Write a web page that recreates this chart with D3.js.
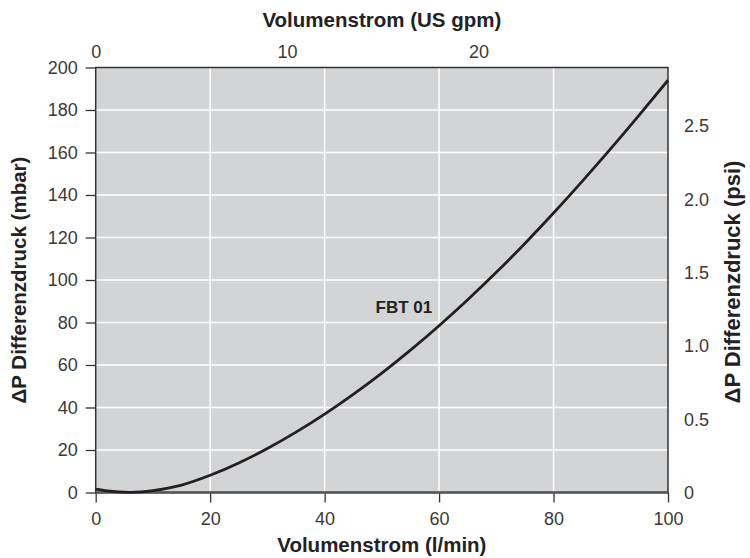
<!DOCTYPE html>
<html>
<head>
<meta charset="utf-8">
<script src="https://cdn.jsdelivr.net/npm/d3@7"></script>
<style>
  body { margin: 0; background: #fff; }
  text { font-family: "Liberation Sans", Arial, sans-serif; }
</style>
</head>
<body>
<svg></svg>
<script>
const WIDTH = 750;
const HEIGHT = 558;
const MARGIN = { top: 67.5, right: 82, bottom: 65.5, left: 95.7 };

// flow in l/min, pressure drop in mbar
const flow = [0, 2, 4, 6, 8, 10, 15, 20, 25, 30, 35, 40, 45, 50, 55, 60, 65, 70, 75, 80, 85, 90, 95, 100];
const dp = [1.6, 0.8, 0.3, 0.1, 0.3, 0.9, 3.5, 8.1, 13.9, 20.7, 28.4, 36.9, 46.2, 56.2, 67.0, 78.5, 90.7, 103.6, 117.2, 131.5, 146.4, 161.8, 177.7, 194.0];

const xTicks = [0, 20, 40, 60, 80, 100];
const yTicks = [0, 20, 40, 60, 80, 100, 120, 140, 160, 180, 200];
const gpmTicks = [0, 10, 20];
const psiTicks = [0, 0.5, 1.0, 1.5, 2.0, 2.5];
const GPM_MAX = 29.9;
const PSI_MAX = 200 / 68.95;

const innerW = WIDTH - MARGIN.left - MARGIN.right;
const innerH = HEIGHT - MARGIN.top - MARGIN.bottom;

const x = d3.scaleLinear().domain([0, 100]).range([0, innerW]);
const y = d3.scaleLinear().domain([0, 200]).range([innerH, 0]);
const xTop = d3.scaleLinear().domain([0, GPM_MAX]).range([0, innerW]);
const yRight = d3.scaleLinear().domain([0, PSI_MAX]).range([innerH, 0]);

const $svg = d3.select("svg").attr("width", WIDTH).attr("height", HEIGHT);
const g = $svg.append("g").attr("transform", `translate(${MARGIN.left},${MARGIN.top})`);

g.append("rect").attr("width", innerW).attr("height", innerH).attr("fill", "#d3d4d6");

// grid
g.append("g").selectAll("line").data(xTicks.slice(1, -1)).join("line")
  .attr("x1", d => x(d)).attr("x2", d => x(d)).attr("y1", 0).attr("y2", innerH)
  .attr("stroke", "#fff").attr("stroke-width", 1.5);
g.append("g").selectAll("line").data(yTicks.slice(1, -1)).join("line")
  .attr("y1", d => y(d)).attr("y2", d => y(d)).attr("x1", 0).attr("x2", innerW)
  .attr("stroke", "#fff").attr("stroke-width", 1.5);

function styleAxis(sel, size) {
  sel.select(".domain").remove();
  sel.selectAll("line").attr("stroke", "#333").attr("stroke-width", 1.3);
  sel.selectAll("text").attr("fill", "#3a3a3a").style("font-size", size + "px");
}

g.append("g").attr("transform", `translate(0,${innerH})`)
  .call(d3.axisBottom(x).tickValues(xTicks).tickSize(10).tickPadding(10))
  .call(s => styleAxis(s, 18));
g.append("g")
  .call(d3.axisLeft(y).tickValues(yTicks).tickSize(10).tickPadding(8))
  .call(s => styleAxis(s, 18));
g.append("g")
  .call(d3.axisTop(xTop).tickValues(gpmTicks).tickSize(0).tickPadding(10))
  .call(s => styleAxis(s, 18));
g.append("g").attr("transform", `translate(${innerW},0)`)
  .call(d3.axisRight(yRight).tickValues(psiTicks).tickSize(0).tickPadding(16)
    .tickFormat(d => d === 0 ? "0" : d3.format(".1f")(d)))
  .call(s => styleAxis(s, 18));

// frame
g.append("rect").attr("width", innerW).attr("height", innerH)
  .attr("fill", "none").attr("stroke", "#333").attr("stroke-width", 1.5);
g.append("line").attr("x1", 0).attr("x2", innerW).attr("y1", innerH).attr("y2", innerH)
  .attr("stroke", "#555").attr("stroke-width", 2.5);

// curve
const line = d3.line().x((d, i) => x(flow[i])).y(d => y(d)).curve(d3.curveMonotoneX);
g.append("path").datum(dp).attr("d", line)
  .attr("fill", "none").attr("stroke", "#231f20").attr("stroke-width", 2.8);

g.append("text").attr("x", x(58.8)).attr("y", y(87.4)).attr("dy", "0.35em")
  .attr("text-anchor", "end").attr("font-weight", "bold").style("font-size", "17px")
  .attr("fill", "#222").text("FBT 01");

// titles
const TITLE_SIZE = "20.5px";
$svg.append("text").attr("x", MARGIN.left + innerW / 2).attr("y", 552)
  .attr("text-anchor", "middle").attr("font-weight", "bold").style("font-size", TITLE_SIZE)
  .attr("fill", "#222").text("Volumenstrom (l/min)");
$svg.append("text").attr("x", MARGIN.left + innerW / 2).attr("y", 27)
  .attr("text-anchor", "middle").attr("font-weight", "bold").style("font-size", TITLE_SIZE)
  .attr("fill", "#222").text("Volumenstrom (US gpm)");
$svg.append("text").attr("transform", `translate(26,${MARGIN.top + innerH / 2}) rotate(-90)`)
  .attr("text-anchor", "middle").attr("font-weight", "bold").style("font-size", TITLE_SIZE)
  .attr("fill", "#222").text("ΔP Differenzdruck (mbar)");
$svg.append("text").attr("transform", `translate(740,${MARGIN.top + innerH / 2 + 2}) rotate(-90)`)
  .attr("text-anchor", "middle").attr("font-weight", "bold").style("font-size", "22px")
  .attr("fill", "#222").text("ΔP Differenzdruck (psi)");
</script>
</body>
</html>
